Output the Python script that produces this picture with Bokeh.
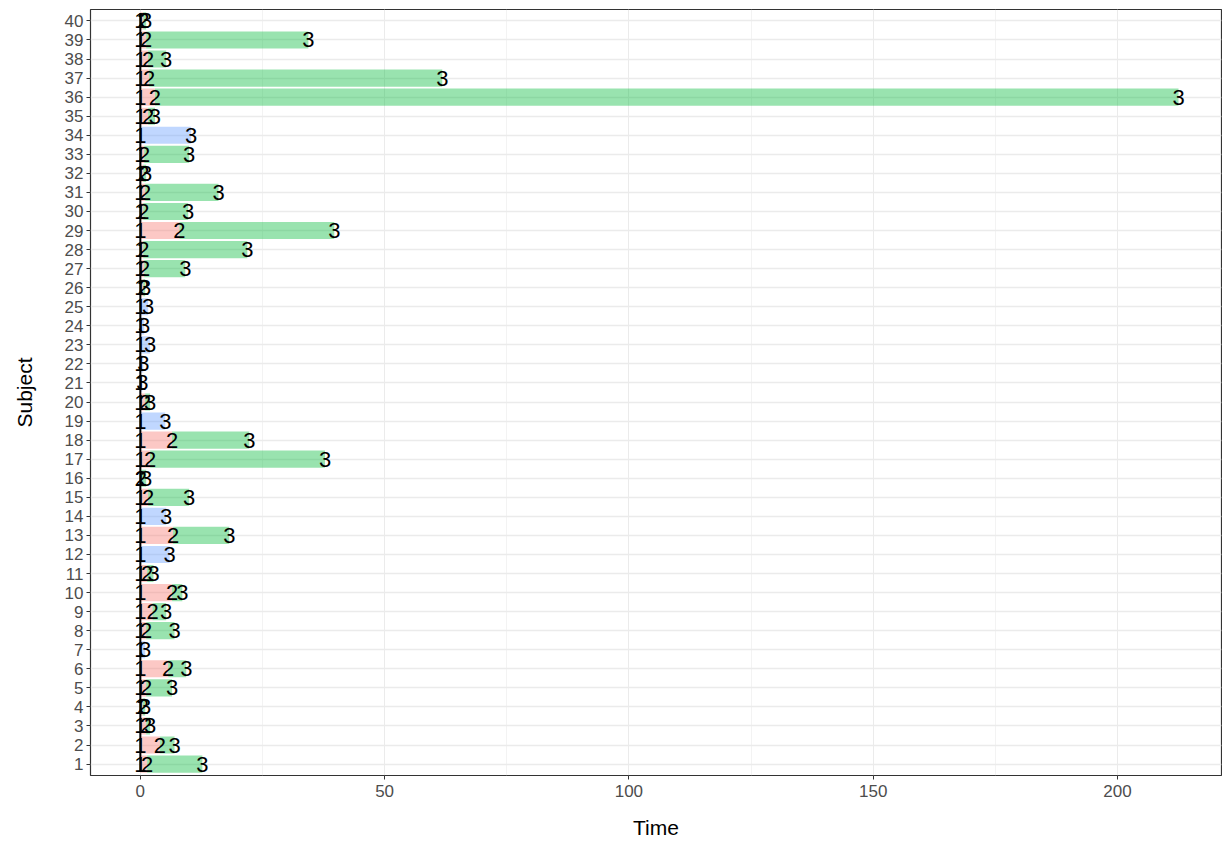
from bokeh.plotting import figure
from bokeh.models import ColumnDataSource, FixedTicker, Range1d
from bokeh.embed import file_html
from bokeh.resources import INLINE
from bokeh.core.properties import value

subjects = list(range(1, 41))
# time of entering state 2 (None = went straight 1 -> 3)
t_state2 = [1.4, 4, 1.2, 0.5, 1.2, 5.7, None, 1.2, 2.5, 6.5,
            1.4, None, 6.7, None, 1.6, 0.1, 2, 6.5, None, 1,
            None, None, None, None, None, 0.6, 0.8, 0.6, 8, 0.6,
            1, 0.6, 0.8, None, 1.6, 3, 1.8, 1.6, 1.2, 0.6]
# time of entering state 3
t_state3 = [12.7, 7, 2, 1, 6.5, 9.4, 1, 7, 5.3, 8.6,
            2.7, 6, 18.2, 5.3, 10, 1.2, 37.8, 22.3, 5.1, 2,
            0.4, 0.6, 2, 0.8, 1.6, 1.0, 9.2, 21.9, 39.7, 9.8,
            16, 1.2, 10, 10.4, 3, 212.5, 61.8, 5.3, 34.4, 1.2]

RED, GREEN, BLUE = "#F8766D", "#00BA38", "#619CFF"

seg = dict(y=[], left=[], right=[], color=[])
lab = dict(x=[], y=[], text=[])
for s, t2, t3 in zip(subjects, t_state2, t_state3):
    lab["x"].append(0); lab["y"].append(s); lab["text"].append("1")
    if t2 is None:
        seg["y"].append(s); seg["left"].append(0); seg["right"].append(t3); seg["color"].append(BLUE)
    else:
        seg["y"].append(s); seg["left"].append(0); seg["right"].append(t2); seg["color"].append(RED)
        seg["y"].append(s); seg["left"].append(t2); seg["right"].append(t3); seg["color"].append(GREEN)
        lab["x"].append(t2); lab["y"].append(s); lab["text"].append("2")
    lab["x"].append(t3); lab["y"].append(s); lab["text"].append("3")

p = figure(width=1222, height=841, output_backend="svg", toolbar_location=None,
           x_range=Range1d(-10.2, 221.3), y_range=Range1d(0.4, 40.6),
           x_axis_label="Time", y_axis_label="Subject")
p.min_border_left = 90
p.min_border_top = 9
p.min_border_right = 1
p.min_border_bottom = 62

p.hbar(y="y", left="left", right="right", height=0.9, color="color",
       fill_alpha=0.4, line_alpha=0, source=ColumnDataSource(seg))
p.segment(x0=[0], y0=[0.6], x1=[0], y1=[40.4], line_color="black", line_width=2)
p.text(x="x", y="y", text="text", source=ColumnDataSource(lab),
       text_align="center", text_baseline="middle", text_color="black",
       text_font=value("Liberation Sans"), text_font_size="22px")

p.xaxis.ticker = FixedTicker(ticks=[0, 50, 100, 150, 200], minor_ticks=[25, 75, 125, 175, 225])
p.yaxis.ticker = FixedTicker(ticks=subjects)
p.xgrid.grid_line_color = "#EBEBEB"
p.xgrid.minor_grid_line_color = "#EBEBEB"
p.xgrid.minor_grid_line_width = 0.6
p.ygrid.grid_line_color = "#EBEBEB"
p.ygrid.grid_line_width = 1.5
for ax in (p.xaxis, p.yaxis):
    ax.axis_line_color = None
    ax.major_tick_line_color = "#333333"
    ax.major_tick_out = 4
    ax.major_tick_in = 0
    ax.minor_tick_line_color = None
    ax.major_label_text_color = "#4D4D4D"
    ax.major_label_text_font = "Liberation Sans"
    ax.major_label_text_font_size = "17px"
    ax.axis_label_text_font = "Liberation Sans"
    ax.axis_label_text_font_size = "21px"
    ax.axis_label_text_font_style = "normal"
    ax.axis_label_text_color = "black"
p.yaxis.major_label_standoff = 3
p.yaxis.axis_label_standoff = 26
p.xaxis.axis_label_standoff = 16
p.outline_line_color = "#333333"
p.outline_line_width = 1.2

open("out.html", "w").write(file_html(p, INLINE))
